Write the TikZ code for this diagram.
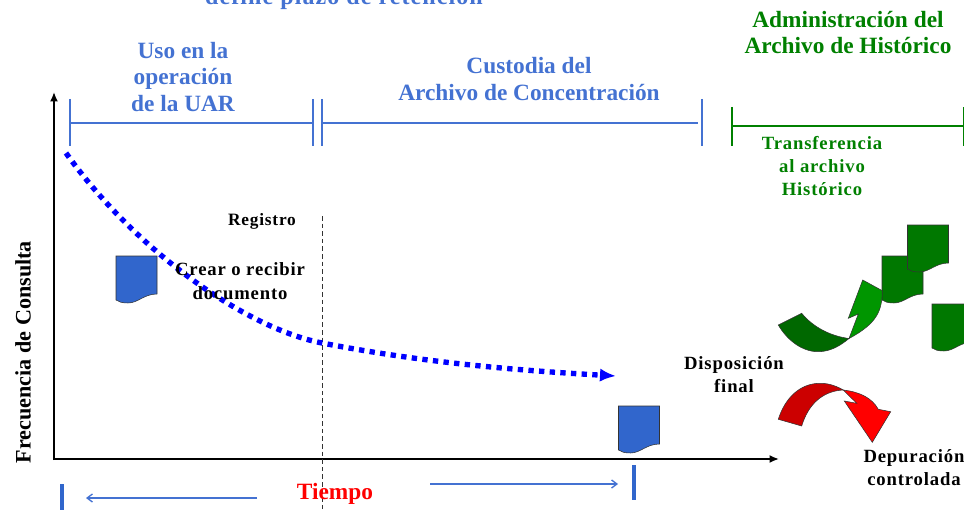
\documentclass[tikz,border=0pt]{standalone}
\usepackage{fontspec}
\setmainfont{Liberation Serif}
\newfontfamily\spacedfont[LetterSpace=4.5]{Liberation Serif}
\usetikzlibrary{arrows.meta}
\definecolor{UARBLUE}{RGB}{68,114,210}
\definecolor{DOCBLUE}{RGB}{49,102,204}
\definecolor{ARCHGREEN}{RGB}{0,128,0}
\definecolor{DOCGREEN}{RGB}{0,120,0}
\definecolor{ARROWGREEN}{RGB}{0,104,0}
\definecolor{HEADGREEN}{RGB}{0,150,0}
\definecolor{ARROWRED}{RGB}{204,0,0}
\tikzset{
    headtext/.style={font=\fontsize{17.5pt}{20pt}\bfseries\selectfont,align=center},
    smalltext/.style={font=\spacedfont\fontsize{14pt}{17.5pt}\bfseries\selectfont,align=center},
    bar/.style={line width=1.5pt},
    axisline/.style={black,line width=2pt,-{Latex[length=7pt,width=6pt]}},
    spanarrow/.style={UARBLUE,line width=1pt,-{Straight Barb[length=4pt,width=6pt]}},
    outlined/.style={draw=black!80,line width=.4pt}
}
\newcommand{\docpage}[3]{\filldraw[outlined,fill=#3,shift={(#1,#2)}] (0,0) -- (41,0) -- (41,38)
    .. controls (28,38) and (22,47) .. (12,47) .. controls (6,47) and (3,46) .. (0,44) -- cycle;}
\begin{document}
\begin{tikzpicture}[x=.75pt,y=-.75pt]
\useasboundingbox (0,0) rectangle (964,510);

% axes
\coordinate (orig) at (54,460);
\coordinate (ytop) at (54,92);
\coordinate (xend) at (779,459);
\coordinate (xstart) at (53,459);
\draw[axisline] (orig) -- (ytop);
\draw[axisline] (xstart) -- (xend);

% spans on top
\coordinate (a1) at (69.5,99);  \coordinate (a2) at (69.5,146);
\coordinate (b1) at (313,99);   \coordinate (b2) at (313,146);
\coordinate (c1) at (322,99);   \coordinate (c2) at (322,146);
\coordinate (d1) at (701.5,99); \coordinate (d2) at (701.5,146);
\coordinate (ab1) at (69.5,123); \coordinate (ab2) at (313,123);
\coordinate (cd1) at (322,123);  \coordinate (cd2) at (698,123);
\draw[bar,UARBLUE] (a1) -- (a2);
\draw[bar,UARBLUE] (b1) -- (b2);
\draw[bar,UARBLUE] (c1) -- (c2);
\draw[bar,UARBLUE] (d1) -- (d2);
\draw[bar,UARBLUE] (ab1) -- (ab2);
\draw[bar,UARBLUE] (cd1) -- (cd2);
\coordinate (e1) at (732,107); \coordinate (e2) at (732,146);
\coordinate (f1) at (963.5,107); \coordinate (f2) at (963.5,146);
\coordinate (ef1) at (732,126); \coordinate (ef2) at (964,126);
\draw[bar,ARCHGREEN,line width=1.8pt] (e1) -- (e2);
\draw[bar,ARCHGREEN] (f1) -- (f2);
\draw[bar,ARCHGREEN,line width=1.8pt] (ef1) -- (ef2);

% registro line
\coordinate (reg1) at (322.5,216);
\coordinate (reg2) at (322.5,510);
\draw[black!80,dash pattern=on 3.5pt off 2.2pt,line width=.8pt] (reg1) -- (reg2);

% documents
\docpage{116}{256}{DOCBLUE}
\docpage{618.5}{406}{DOCBLUE}
\docpage{882}{256}{DOCGREEN}
\docpage{907.5}{225}{DOCGREEN}
\docpage{932}{304}{DOCGREEN}

% frequency curve
\coordinate (cstart) at (66,153);
\coordinate (cmid) at (322,343);
\coordinate (cend) at (616,376);
\draw[blue,line width=4pt,dash pattern=on 4pt off 4pt,-{Latex[length=12pt,width=10pt]}]
    (cstart) .. controls (135,250) and (245,328) .. (cmid)
    .. controls (420,362) and (510,370) .. (cend);

% green arrow
\filldraw[outlined,fill=ARROWGREEN] (778.3,325) -- (801.7,313.3)
    .. controls (813,327) and (830,336) .. (849,338.5)
    .. controls (840,346) and (830,351.7) .. (818,351.7)
    .. controls (802,351.7) and (787,340) .. (778.3,325) -- cycle;
\filldraw[outlined,fill=HEADGREEN] (849,338.5) -- (858.3,314) -- (848.3,318.3) -- (862.7,280) -- (882.3,290.7)
    .. controls (882,310) and (878,323) .. (849,338.5) -- cycle;

% red arrow
\filldraw[outlined,fill=ARROWRED] (778.3,419.3) -- (801.7,426)
    .. controls (808,405) and (822,391) .. (843.3,390)
    .. controls (833,384) and (825,383.3) .. (820,383.3)
    .. controls (800,383.3) and (785,398) .. (778.3,419.3) -- cycle;
\filldraw[outlined,fill=red] (843.3,390) .. controls (860,392) and (872,398) .. (878.3,409.3)
    -- (890.7,411.7) -- (872.3,442.3) -- (844.3,401) -- (856.7,403.3) -- cycle;

% time
\coordinate (tl1) at (62,484); \coordinate (tl2) at (62,510);
\coordinate (tr1) at (634,465); \coordinate (tr2) at (634,500);
\coordinate (al1) at (257,498); \coordinate (al2) at (86,498);
\coordinate (ar1) at (430,484); \coordinate (ar2) at (618,484);
\draw[DOCBLUE,line width=2.4pt] (tl1) -- (tl2);
\draw[DOCBLUE,line width=2.4pt] (tr1) -- (tr2);
\draw[spanarrow] (al1) -- (al2);
\draw[spanarrow] (ar1) -- (ar2);

% labels
\node[headtext,font=\spacedfont\fontsize{18pt}{20pt}\bfseries\selectfont,text=UARBLUE,anchor=base] (plazo) at (344,5) {define plazo de retención};
\node[headtext,text=UARBLUE] (uso) at (183,77) {Uso en la\\operación\\de la UAR};
\node[headtext,text=UARBLUE] (custodia) at (529,79) {Custodia del\\Archivo de Concentración};
\node[headtext,text=ARCHGREEN] (admin) at (848,32.5) {Administración del\\Archivo de Histórico};
\node[smalltext,text=ARCHGREEN] (transf) at (822,166) {Transferencia\\al archivo\\Histórico};
\node[smalltext,font=\spacedfont\fontsize{13pt}{12pt}\bfseries\selectfont] (registro) at (262,221) {Registro};
\node[smalltext] (crear) at (240,281) {Crear o recibir\\documento};
\node[smalltext] (dispo) at (734,374.5) {Disposición\\final};
\node[smalltext] (depu) at (914,467.5) {Depuración\\controlada};
\node[font=\fontsize{16.6pt}{18pt}\bfseries\selectfont,rotate=90] (frec) at (23,352) {Frecuencia de Consulta};
\node[font=\fontsize{17.5pt}{18pt}\bfseries\selectfont,text=red] (tiempo) at (335,494) {Tiempo};
\end{tikzpicture}
\end{document}
